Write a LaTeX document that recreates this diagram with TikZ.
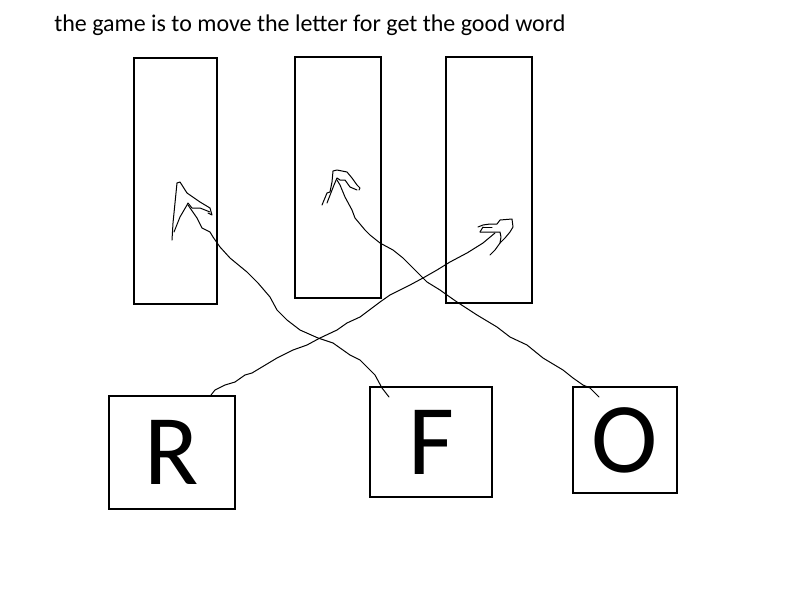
\documentclass[tikz,border=0pt]{standalone}
\usepackage{fontspec}
\setmainfont{Carlito}

\begin{document}
\begin{tikzpicture}
  [x=0.75pt,y=-0.75pt,
  slot/.style={rectangle,draw,line width=1.5pt,inner sep=0pt},
  tile/.style={slot,font=\fontsize{75}{75}\selectfont},
  hand/.style={line width=0.75pt,line join=round,line cap=round}]

  \useasboundingbox (0,0) rectangle (800,600);

  \node[anchor=base west,inner sep=0pt,font=\fontsize{18}{21}\selectfont] (title) at (54,31)
    {the game is to move the letter for get the good word};

  % the three slots
  \node[slot,minimum width=62.25pt,minimum height=184.5pt] (slotA) at (175.5,181) {};
  \node[slot,minimum width=64.5pt,minimum height=180.75pt] (slotB) at (338,177.5) {};
  \node[slot,minimum width=64.5pt,minimum height=184.5pt] (slotC) at (489,180) {};

  % the letters
  \node[tile,minimum width=94.5pt,minimum height=84.75pt] (tileR) at (172,452.5) {R};
  \node[tile,minimum width=91.5pt,minimum height=82.5pt] (tileF) at (431,442) {F};
  \node[tile,minimum width=78pt,minimum height=79.5pt] (tileO) at (625,440) {O};

  \coordinate (tipA) at (188,205);
  \coordinate (tipB) at (337,180);
  \coordinate (tipC) at (495,233);

  % F goes to the first slot
  \draw[hand] ([shift={(20,11)}]tileF.north west) -- (382,388) -- (375,375) -- (360,360)
    -- (350,355) -- (333,343) -- (318,338) -- (300,330) -- (287,320) -- (277,310)
    -- (270,297) -- (258,283) -- (247,272) -- (230,258) -- (220,247) -- (213,237)
    -- (210,232) -- (202,228) -- (197,218) -- (tipA);
  \draw[hand] (172,240) -- (173,223) -- (177,183) -- (180,182) -- (187,193)
    -- (200,202) -- (210,208) -- (212,215) -- (208,213);
  \draw[hand] (174,232) -- (180,217) -- (187,205) -- (188,203) -- (192,208)
    -- (200,208) -- (210,212);

  % O goes to the second slot
  \draw[hand] ([shift={(27,11)}]tileO.north west) -- (590,388) -- (583,385)
    -- (573,378) -- (563,370) -- (543,358) -- (527,345) -- (510,337) -- (497,327)
    -- (477,315) -- (457,302) -- (447,295) -- (440,290) -- (427,282) -- (417,272)
    -- (403,258) -- (393,250) -- (380,243) -- (370,235) -- (365,230) -- (355,218)
    -- (352,210) -- (345,197) -- (340,185) -- (tipB);
  \draw[hand] (322,205) -- (327,193) -- (330,192) -- (332,182) -- (333,171)
    -- (337,170) -- (347,172) -- (352,178) -- (357,185) -- (360,188) -- (359,190);
  \draw[hand] (327,203) -- (334,185) -- (337,178) -- (340,180) -- (345,180)
    -- (350,187) -- (357,190);

  % R goes to the third slot
  \draw[hand] ([shift={(103,0)}]tileR.north west) -- (215,390) -- (225,385)
    -- (235,382) -- (245,375) -- (252,373) -- (257,370) -- (277,358) -- (293,350)
    -- (307,345) -- (320,338) -- (337,330) -- (347,323) -- (360,317) -- (372,308)
    -- (380,302) -- (390,295) -- (410,285) -- (423,278) -- (437,270) -- (450,262)
    -- (467,253) -- (483,243) -- (tipC);
  \draw[hand] (478,227) -- (483,225) -- (490,224) -- (497,224) -- (500,220)
    -- (512,219) -- (513,227) -- (510,232) -- (505,238) -- (500,243) -- (495,250)
    -- (490,255);
  \draw[hand] (483,227) -- (492,227);
  \draw[hand] (480,232) -- (483,227);
  \draw[hand] (480,232) -- (500,232) -- (501,237) -- (500,243);
\end{tikzpicture}
\end{document}
